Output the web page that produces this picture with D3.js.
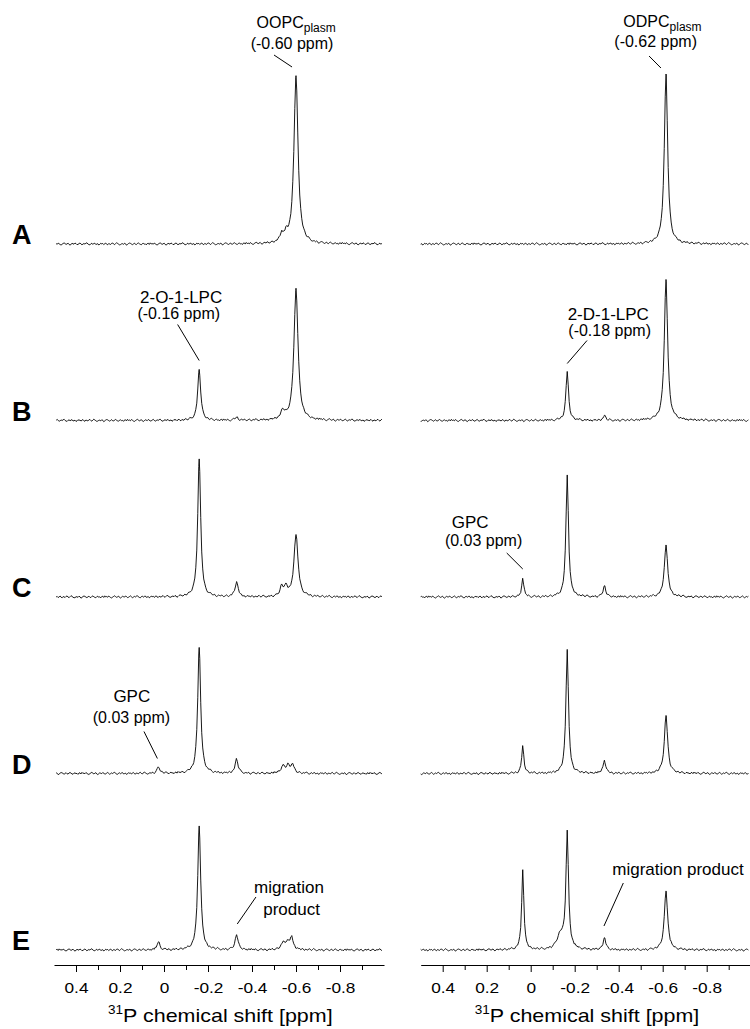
<!DOCTYPE html>
<html>
<head>
<meta charset="utf-8">
<script src="https://cdn.jsdelivr.net/npm/d3@7"></script>
<style>
  body { margin: 0; background: #fff; }
  text { font-family: "Liberation Sans", Arial, sans-serif; fill: #000; }
</style>
</head>
<body>
<div id="chart"></div>
<script>
// Data: row labels, axis ticks, peak lists [ppm, height, half width] per spectrum
const rows = ["A", "B", "C", "D", "E"];
const tickMajor = [0.4, 0.2, 0, -0.2, -0.4, -0.6, -0.8];
const tickMinor = [0.3, 0.1, -0.1, -0.3, -0.5, -0.7, -0.9];

const peaksOOPC = [
  [[-0.60, 168, 0.011], [-0.535, 8, 0.008], [-0.555, 7, 0.008]],
  [[-0.16, 51, 0.008], [-0.60, 132, 0.011], [-0.54, 8, 0.01], [-0.33, 3, 0.008]],
  [[-0.16, 138, 0.008], [-0.33, 15, 0.008], [-0.60, 62, 0.011], [-0.535, 10, 0.008], [-0.555, 9, 0.008]],
  [[0.025, 6, 0.008], [-0.16, 126, 0.008], [-0.33, 14, 0.008], [-0.54, 7, 0.01], [-0.565, 8, 0.01], [-0.585, 8, 0.008]],
  [[0.025, 8, 0.007], [-0.16, 124, 0.008], [-0.33, 15, 0.008], [-0.54, 6, 0.01], [-0.56, 7, 0.01], [-0.58, 12, 0.009]]
];
const peaksODPC = [
  [[-0.615, 170, 0.009]],
  [[-0.166, 49, 0.007], [-0.615, 141, 0.009], [-0.335, 5, 0.006]],
  [[0.036, 18, 0.006], [-0.166, 122, 0.007], [-0.335, 11, 0.007], [-0.615, 52, 0.009]],
  [[0.036, 27, 0.006], [-0.166, 124, 0.007], [-0.335, 13, 0.007], [-0.615, 58, 0.009]],
  [[0.036, 80, 0.006], [-0.166, 116, 0.007], [-0.135, 14, 0.018], [-0.335, 12, 0.007], [-0.615, 59, 0.009]]
];

// baseline wiggle
const noise = [0.4,-0.3,0.9,0.2,-0.6,-1.0,-0.2,0.5,1.1,0.3,-0.4,0.1,0.8,-0.5,-1.1,-0.3,0.6,0.2,-0.2,0.9,
  0.4,-0.7,-0.4,0.3,1.0,0.1,-0.8,-0.2,0.5,-0.1,0.7,1.2,0.0,-0.6,-0.9,0.2,0.6,-0.3,0.4,0.8,
  -0.5,-0.2,0.3,-1.0,-0.4,0.7,0.1,0.5,-0.6,0.2,0.9,-0.3,-0.8,0.4,0.0,-0.5,0.6,1.0,-0.1,-0.7,0.3,
  1.3,0.5,-0.2,-0.9,-0.6,0.1,0.3,-0.4,0.7,0.2,-1.2,-0.5,0.4,0.9,0.6,-0.1,-0.7,0.0,0.8,-0.3,
  -0.6,0.5,1.0,0.2,-0.4,-0.8,0.3,0.6,-0.2,0.1,-0.9,0.4,0.7,-0.5,1.1,0.0];

// annotations: lines of text [text, subscript, ppm, height, size], leader [ppm1, h1, ppm2, h2]
const annotOOPC = [
  { row: "A", lines: [["OOPC", "plasm", -0.421, 216, 16], ["(-0.60 ppm)", "", -0.394, 195, 16]], leader: [-0.50, 189, -0.582, 177] },
  { row: "B", lines: [["2-O-1-LPC", "", 0.109, 118, 17], ["(-0.16 ppm)", "", 0.121, 102, 16]], leader: [-0.062, 96, -0.16, 60] },
  { row: "D", lines: [["GPC", "", 0.23, 72, 17], ["(0.03 ppm)", "", 0.324, 51, 16]], leader: [0.091, 42, 0.03, 15] },
  { row: "E", lines: [["migration", "", -0.409, 57, 17], ["product", "", -0.451, 35, 17]], leader: [-0.418, 53, -0.333, 26] }
];
const annotODPC = [
  { row: "A", lines: [["ODPC", "plasm", -0.421, 217, 16], ["(-0.62 ppm)", "", -0.38, 197, 16]], leader: [-0.538, 188, -0.592, 176] },
  { row: "B", lines: [["2-D-1-LPC", "", -0.168, 101, 17], ["(-0.18 ppm)", "", -0.171, 85, 16]], leader: [-0.256, 80, -0.166, 57] },
  { row: "C", lines: [["GPC", "", 0.359, 69, 17], ["(0.03 ppm)", "", 0.39, 51, 16]], leader: [0.109, 44, 0.036, 28] },
  { row: "E", lines: [["migration product", "", -0.371, 75, 17]], leader: [-0.421, 67, -0.333, 24] }
];

const width = 750, height = 1029;
const svg = d3.select("#chart").append("svg")
  .attr("width", width).attr("height", height);

const rowY = d3.scalePoint().domain(rows).range([244, 950]);
const axisY = 965;

const panels = [
  { peaks: peaksOOPC, annot: annotOOPC, x: d3.scaleLinear().domain([0.5, -1.0]).range([54, 384]), from: 0.49, to: -0.995 },
  { peaks: peaksODPC, annot: annotODPC, x: d3.scaleLinear().domain([0.5, -1.0]).range([420.7, 750.7]), from: 0.5, to: -0.99 }
];

const line = d3.line().x(d => d[0]).y(d => d[1]);

panels.forEach((p, pi) => {
  const g = svg.append("g");
  const grid = d3.range(p.from, p.to, -0.0045);

  rows.forEach((r, ri) => {
    const base = rowY(r);
    const y = d3.scaleLinear().domain([0, 170]).range([base, base - 170]);
    const peaks = p.peaks[ri];
    const signal = ppm => d3.sum(peaks, k => k[1] / (1 + Math.pow((ppm - k[0]) / k[2], 2)));

    const pts = grid.map((ppm, i) => [ppm, signal(ppm) + noise[(i + ri * 23 + pi * 41) % noise.length]]);
    peaks.forEach(k => pts.push([k[0], signal(k[0])]));
    pts.sort((a, b) => b[0] - a[0]);

    g.append("path")
      .attr("d", line(pts.map(d => [p.x(d[0]), y(d[1])])))
      .attr("fill", "none")
      .attr("stroke", "#000")
      .attr("stroke-width", 0.9);

    p.annot.filter(a => a.row === r).forEach(a => {
      a.lines.forEach(l => {
        const t = g.append("text")
          .attr("x", p.x(l[2])).attr("y", y(l[3]))
          .attr("font-size", l[4])
          .text(l[0]);
        if (l[1]) t.append("tspan").attr("font-size", 12).attr("dy", 4).text(l[1]);
      });
      g.append("line")
        .attr("x1", p.x(a.leader[0])).attr("y1", y(a.leader[1]))
        .attr("x2", p.x(a.leader[2])).attr("y2", y(a.leader[3]))
        .attr("stroke", "#000").attr("stroke-width", 1);
    });

    if (pi === 0) {
      svg.append("text")
        .attr("x", 12).attr("y", base)
        .attr("font-size", 27).attr("font-weight", "bold")
        .text(r);
    }
  });

  // axis with major and minor ticks
  const ax = g.append("g").attr("transform", `translate(0,${axisY})`)
    .call(d3.axisBottom(p.x).tickValues(tickMajor).tickSize(7).tickSizeOuter(0)
      .tickFormat(d => String(d)));
  ax.select(".domain").attr("stroke-width", 1.2);
  ax.selectAll(".tick text")
    .attr("font-size", 15).attr("font-family", "Liberation Sans, Arial, sans-serif")
    .attr("dy", "1.2em")
    .attr("transform", "scale(1.15,1)");
  g.append("g").attr("transform", `translate(0,${axisY})`)
    .call(d3.axisBottom(p.x).tickValues(tickMinor).tickSize(5).tickFormat(""))
    .select(".domain").remove();

  const title = g.append("text")
    .attr("transform", `translate(${p.x(0.5) + 54},1022) scale(1.13,1)`)
    .attr("font-size", 19);
  title.append("tspan").attr("font-size", 12).attr("dy", -8).text("31");
  title.append("tspan").attr("dy", 8).text("P chemical shift [ppm]");
});
</script>
</body>
</html>
